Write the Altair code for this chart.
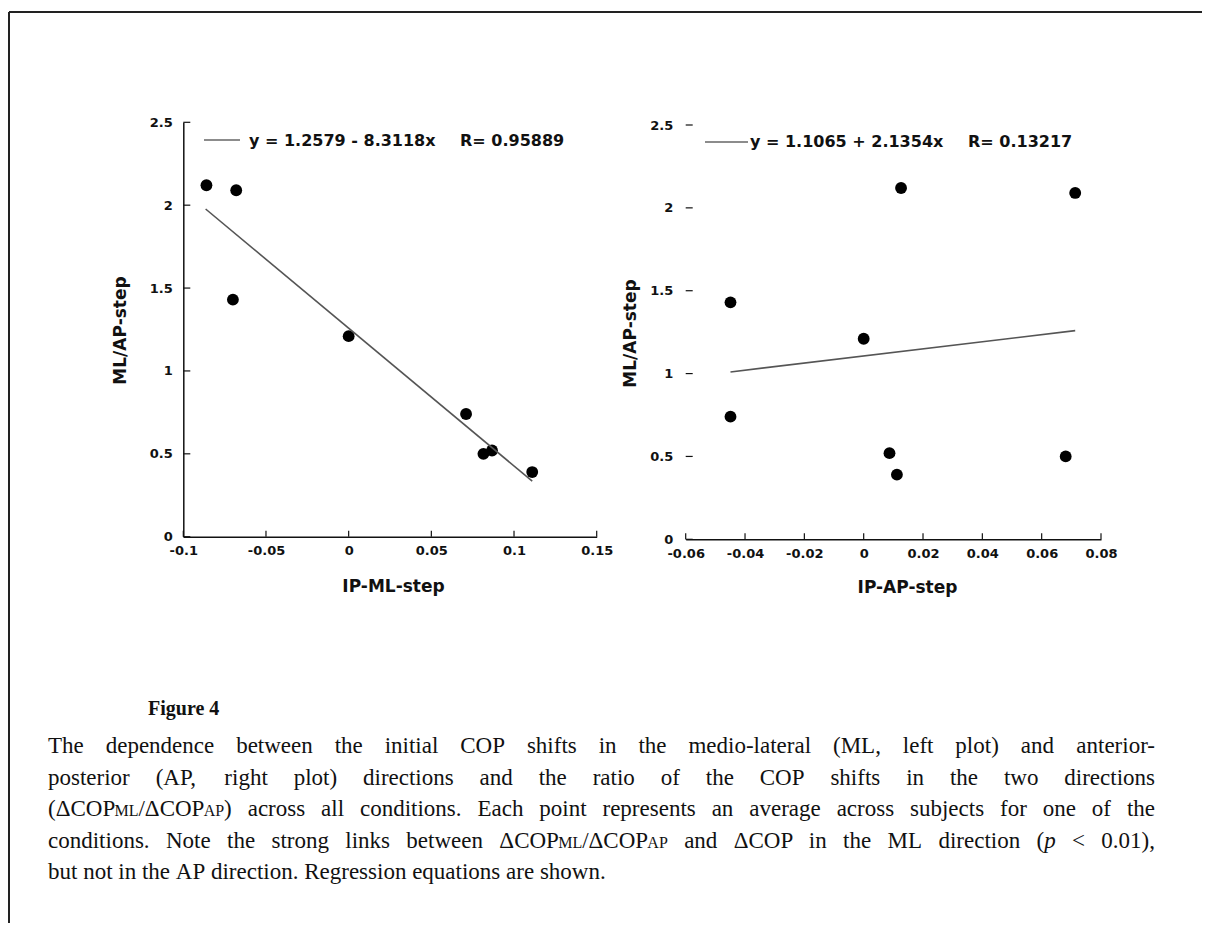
import re
import altair as alt
import pandas as pd

# ---------------- data ----------------
ratio = [2.12, 2.09, 1.43, 1.21, 0.74, 0.50, 0.52, 0.39]          # ML/AP-step
ip_ml = [-0.086, -0.068, -0.070, 0.000, 0.071, 0.0815, 0.0867, 0.111]  # IP-ML-step
ip_ap = [0.0126, 0.0713, -0.0449, 0.000, -0.0449, 0.0681, 0.0087, 0.0112]  # IP-AP-step

fit_ml_x = [-0.0865, 0.111]
fit_ml_y = [1.977, 0.335]
fit_ap_x = [-0.0449, 0.0713]
fit_ap_y = [1.010, 1.259]

ml_ticks = [-0.1, -0.05, 0, 0.05, 0.1, 0.15]
ap_ticks = [-0.06, -0.04, -0.02, 0, 0.02, 0.04, 0.06, 0.08]
ratio_ticks = [0, 0.5, 1, 1.5, 2, 2.5]

eq_ml = "y = 1.2579 - 8.3118x"
r_ml = "R= 0.95889"
eq_ap = "y = 1.1065 + 2.1354x"
r_ap = "R= 0.13217"

fig_label = "Figure 4"
# [..] = small-cap subscript, *..* = italic
caption_lines = [
    "The dependence between the initial COP shifts in the medio-lateral (ML, left plot) and anterior-",
    "posterior (AP, right plot) directions and the ratio of the COP shifts in the two directions",
    "(ΔCOP[ML]/ΔCOP[AP]) across all conditions. Each point represents an average across subjects for one of the",
    "conditions. Note the strong links between ΔCOP[ML]/ΔCOP[AP] and ΔCOP in the ML direction (*p* < 0.01),",
    "but not in the AP direction. Regression equations are shown.",
]

# ---------------- layout (pixels inside the chart) ----------------
W, H = 1194, 915
SANS = "DejaVu Sans"
SERIF = "Liberation Serif"

pts_ml = pd.DataFrame({"x": ip_ml, "y": ratio})
pts_ap = pd.DataFrame({"x": ip_ap, "y": ratio})
fit_ml = pd.DataFrame({"x": fit_ml_x, "y": fit_ml_y})
fit_ap = pd.DataFrame({"x": fit_ap_x, "y": fit_ap_y})


def panel(pts, fit, xdom, xrange_, yrange_, xticks, xtitle, xtitle_pos, ytitle_pos,
          show_ydomain, ylabel_pad, ytick_len):
    xs = alt.Scale(domain=xdom, range=xrange_, nice=False, zero=False)
    ys = alt.Scale(domain=[0, 2.5], range=yrange_, nice=False, zero=False)
    x_axis_y = yrange_[0]
    y_axis_x = xrange_[0]
    common = dict(
        ticks=False, grid=False, domainColor="#111", domainWidth=1.5,
        labelFont=SANS, labelFontWeight="bold", labelFontSize=13, labelColor="#111",
        labelFlush=False, labelOverlap=False, labelExpr="toString(datum.value)",
        titleFont=SANS, titleFontWeight="bold", titleFontSize=17, titleColor="#111",
        titleBaseline="middle",
    )
    xaxis = alt.Axis(orient="bottom", offset=x_axis_y - H, values=xticks, labelPadding=8,
                     title=xtitle, titleX=xtitle_pos[0], titleY=xtitle_pos[1], **common)
    yaxis = alt.Axis(orient="left", offset=-y_axis_x, values=ratio_ticks, labelPadding=ylabel_pad,
                     domain=show_ydomain, title="ML/AP-step",
                     titleX=ytitle_pos[0], titleY=ytitle_pos[1], **common)

    points = alt.Chart(pts).mark_circle(size=140, color="black", opacity=1).encode(
        x=alt.X("x:Q", scale=xs, axis=xaxis),
        y=alt.Y("y:Q", scale=ys, axis=yaxis),
    )
    line = alt.Chart(fit).mark_line(color="#555", strokeWidth=1.6).encode(
        x=alt.X("x:Q", scale=xs, axis=None),
        y=alt.Y("y:Q", scale=ys, axis=None),
    )
    xt = alt.Chart(pd.DataFrame({"v": xticks})).mark_rule(color="#111", strokeWidth=1.2).encode(
        x=alt.X("v:Q", scale=xs, axis=None),
        y=alt.value(x_axis_y), y2=alt.value(x_axis_y - 6),
    )
    yt = alt.Chart(pd.DataFrame({"v": ratio_ticks})).mark_rule(color="#111", strokeWidth=1.2).encode(
        y=alt.Y("v:Q", scale=ys, axis=None),
        x=alt.value(y_axis_x), x2=alt.value(y_axis_x + ytick_len),
    )
    return [points, line, xt, yt]


left = panel(pts_ml, fit_ml, [-0.1, 0.15], [175.3, 588.7], [528.7, 114.3], ml_ticks,
             "IP-ML-step", (385, 50), (-63, 322), True, 11, 7)
right = panel(pts_ap, fit_ap, [-0.06, 0.08], [677.7, 1093.0], [531.3, 117.0], ap_ticks,
              "IP-AP-step", (899, 48), (-55, 325), False, 13, 7)

one = pd.DataFrame({"a": [0]})


def label(txt, x, y, size=16, font=SANS, weight="bold", align="left"):
    return alt.Chart(one).mark_text(
        text=txt, font=font, fontSize=size, fontWeight=weight, align=align,
        baseline="middle", color="#111",
    ).encode(x=alt.value(x), y=alt.value(y))


def seg(x1, x2, y, color="#666", w=1.3):
    return alt.Chart(one).mark_rule(color=color, strokeWidth=w).encode(
        x=alt.value(x1), x2=alt.value(x2), y=alt.value(y))


legend = [
    seg(196, 232, 132), label(eq_ml, 241, 133), label(r_ml, 452, 133),
    seg(697, 740, 134), label(eq_ap, 742, 134), label(r_ap, 960, 134),
]

frame = [
    alt.Chart(one).mark_rule(color="#222", strokeWidth=2).encode(
        x=alt.value(1), x2=alt.value(W), y=alt.value(4)),
    alt.Chart(one).mark_rule(color="#222", strokeWidth=2).encode(
        x=alt.value(1), y=alt.value(4), y2=alt.value(H)),
]

fig_title = label(fig_label, 140, 701, size=20, font=SERIF)

# ---------------- justified caption (Times metrics, per 1000 em) ----------------
_adv = {}
_adv.update(dict(zip("abcdefghijklmnopqrstuvwxyz",
                     [444, 500, 444, 500, 444, 333, 500, 500, 278, 278, 500, 278, 778,
                      500, 500, 500, 500, 333, 389, 278, 500, 500, 722, 500, 500, 444])))
_adv.update(dict(zip("ABCDEFGHIJKLMNOPQRSTUVWXYZ",
                     [722, 667, 667, 722, 611, 556, 722, 722, 333, 389, 722, 611, 889,
                      722, 722, 556, 722, 667, 556, 611, 722, 722, 944, 722, 722, 611])))
_adv.update({d: 500 for d in "0123456789"})
_adv.update({" ": 250, ".": 250, ",": 250, "(": 333, ")": 333, "-": 333, "/": 278,
             "<": 564, "Δ": 612})

FS = 23
SMALL = 16
X0, X1 = 40, 1147
Y0, LH = 745, 31.5


def adv(s, size):
    return sum(_adv.get(c, 500) for c in s) / 1000.0 * size


def parse_word(word):
    out = []
    for m in re.finditer(r"\[([^\]]+)\]|\*([^*]+)\*|([^\[\*]+)", word):
        if m.group(1):
            out.append((m.group(1), SMALL, 0))
        elif m.group(2):
            out.append((m.group(2), FS, 1))
        else:
            out.append((m.group(3), FS, 0))
    return out


rows = []
for i, ln in enumerate(caption_lines):
    words = [parse_word(w) for w in ln.split(" ")]
    widths = [sum(adv(t, s) for t, s, _ in w) for w in words]
    last = i == len(caption_lines) - 1
    gap = adv(" ", FS) if last else (X1 - X0 - sum(widths)) / (len(words) - 1)
    x = X0
    y = Y0 + i * LH
    for j, (w, wd) in enumerate(zip(words, widths)):
        if not last and j == len(words) - 1 and len(w) == 1:
            rows.append({"t": w[0][0], "px": X1, "py": y, "fs": w[0][1], "it": w[0][2], "al": "r"})
        else:
            xx = x
            for t, s, it in w:
                rows.append({"t": t, "px": xx, "py": y, "fs": s, "it": it, "al": "l"})
                xx += adv(t, s)
        x += wd + gap
cap_df = pd.DataFrame(rows)


def cap_layer(it, al):
    return alt.Chart(cap_df).transform_filter(
        (alt.datum.it == it) & (alt.datum.al == al)
    ).mark_text(
        font=SERIF, baseline="alphabetic", align="left" if al == "l" else "right",
        fontStyle="italic" if it else "normal", color="#111",
    ).encode(
        x=alt.X("px:Q", scale=None, axis=None),
        y=alt.Y("py:Q", scale=None, axis=None),
        size=alt.Size("fs:Q", scale=None, legend=None),
        text="t:N",
    )


caption = [cap_layer(0, "l"), cap_layer(1, "l"), cap_layer(0, "r")]

chart = alt.layer(*left, *right, *frame, *legend, fig_title, *caption).resolve_scale(
    x="independent", y="independent"
).resolve_axis(
    x="independent", y="independent"
).properties(
    width=W, height=H, padding=0, autosize=alt.AutoSizeParams(type="none"),
).configure_view(strokeWidth=0)

chart.save("out.html", embed_options={"renderer": "svg", "actions": False})
